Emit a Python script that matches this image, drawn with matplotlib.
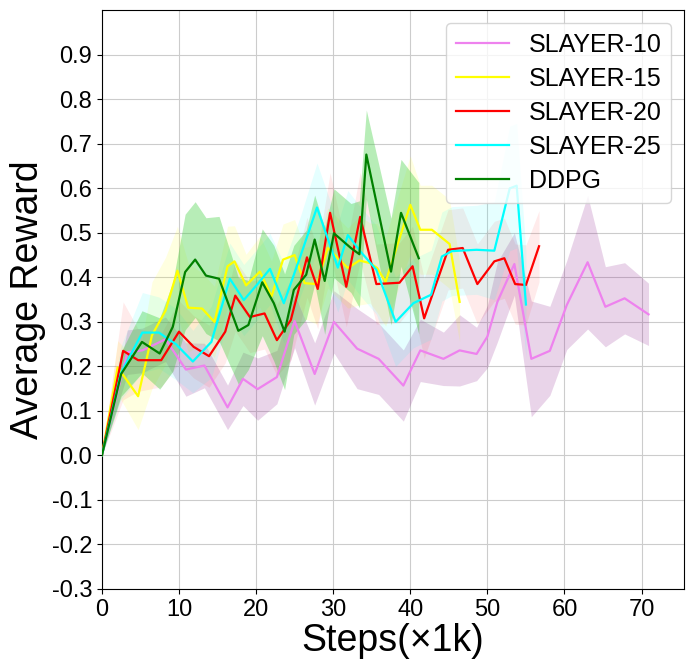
import numpy as np
import matplotlib
matplotlib.use('Agg')
import matplotlib.pyplot as plt

plt.rcParams['font.family'] = ['Liberation Sans', 'DejaVu Sans']

# SLAYER-10
x10 = [0, 3.3, 5.25, 8.25, 10.9, 13.3, 16.3, 18.3, 20.2, 22.7, 25.0, 27.6, 30.1, 33.1, 35.9,
       39.1, 41.3, 44.3, 46.4, 48.6, 50.0, 51.3, 53.5, 55.7, 58.1, 60.3, 63.0, 65.3, 67.8, 70.9]
y10 = [0, 0.232, 0.236, 0.261, 0.193, 0.202, 0.108, 0.172, 0.149, 0.176, 0.302, 0.183, 0.300, 0.240, 0.217,
       0.157, 0.236, 0.217, 0.236, 0.228, 0.267, 0.345, 0.430, 0.217, 0.235, 0.338, 0.434, 0.334, 0.353, 0.317]
s10 = [0, 0.05, 0.05, 0.05, 0.06, 0.05, 0.05, 0.06, 0.07, 0.06, 0.06, 0.07, 0.07, 0.09, 0.08,
       0.08, 0.07, 0.06, 0.08, 0.06, 0.07, 0.09, 0.07, 0.13, 0.10, 0.10, 0.15, 0.09, 0.08, 0.07]

# SLAYER-15
x15 = [0, 2.05, 4.7, 6.5, 8.25, 9.8, 11.2, 13.0, 14.6, 16.3, 17.2, 18.7, 20.5, 22.0, 23.5,
       25.0, 26.3, 27.9, 29.3, 31.9, 33.4, 34.8, 35.7, 36.8, 40.0, 41.3, 42.8, 45.1, 46.4]
y15 = [0, 0.198, 0.133, 0.270, 0.325, 0.415, 0.332, 0.330, 0.300, 0.425, 0.436, 0.382, 0.413, 0.357, 0.440,
       0.450, 0.387, 0.385, 0.466, 0.421, 0.438, 0.432, 0.421, 0.390, 0.563, 0.507, 0.507, 0.475, 0.345]
s15 = [0, 0.06, 0.075, 0.12, 0.12, 0.10, 0.10, 0.08, 0.08, 0.09, 0.08, 0.07, 0.08, 0.08, 0.08,
       0.08, 0.08, 0.09, 0.09, 0.09, 0.10, 0.09, 0.10, 0.10, 0.11, 0.10, 0.10, 0.10, 0.09]

# SLAYER-20
x20 = [0, 2.76, 4.7, 7.7, 10.0, 11.9, 13.9, 16.0, 17.3, 19.2, 21.1, 22.7, 24.5, 26.6, 28.0,
       29.6, 31.7, 33.5, 35.6, 38.6, 40.3, 41.8, 44.9, 46.8, 48.7, 50.9, 52.2, 53.6, 55.0, 56.7]
y20 = [0, 0.235, 0.214, 0.214, 0.278, 0.244, 0.223, 0.278, 0.359, 0.311, 0.319, 0.259, 0.304, 0.445, 0.374,
       0.545, 0.379, 0.536, 0.385, 0.388, 0.425, 0.308, 0.462, 0.466, 0.385, 0.436, 0.443, 0.385, 0.383, 0.470]
s20 = [0, 0.11, 0.07, 0.06, 0.07, 0.07, 0.07, 0.07, 0.08, 0.08, 0.08, 0.08, 0.09, 0.09, 0.09,
       0.09, 0.09, 0.10, 0.09, 0.09, 0.09, 0.09, 0.09, 0.09, 0.09, 0.09, 0.09, 0.09, 0.09, 0.08]

# SLAYER-25
x25 = [0, 2.47, 5.25, 7.4, 9.6, 11.8, 14.2, 16.6, 18.4, 20.2, 21.8, 23.6, 25.8, 27.9,
       30.6, 31.9, 33.6, 35.6, 38.1, 40.4, 42.7, 44.1, 45.4, 48.6, 50.9, 52.9, 53.8, 55.0]
y25 = [0, 0.185, 0.276, 0.276, 0.250, 0.211, 0.255, 0.397, 0.349, 0.385, 0.419, 0.342, 0.450, 0.557,
       0.422, 0.495, 0.457, 0.417, 0.300, 0.342, 0.361, 0.447, 0.459, 0.462, 0.460, 0.600, 0.606, 0.339]
s25 = [0, 0.06, 0.09, 0.08, 0.08, 0.07, 0.08, 0.08, 0.08, 0.08, 0.08, 0.09, 0.09, 0.10,
       0.10, 0.10, 0.10, 0.10, 0.10, 0.10, 0.10, 0.10, 0.10, 0.10, 0.11, 0.14, 0.14, 0.12]

# DDPG
xd = [0, 2.5, 5.2, 7.5, 9.2, 10.8, 12.1, 13.5, 15.2, 17.7, 19.0, 20.8, 22.3, 23.7, 24.9,
      26.5, 27.6, 28.9, 30.1, 32.3, 33.4, 34.3, 37.5, 38.8, 41.1]
yd = [0, 0.183, 0.255, 0.229, 0.289, 0.412, 0.440, 0.404, 0.397, 0.280, 0.293, 0.389, 0.342, 0.278, 0.372,
      0.406, 0.485, 0.392, 0.499, 0.466, 0.452, 0.676, 0.413, 0.545, 0.443]
sd = [0, 0.05, 0.07, 0.08, 0.10, 0.13, 0.13, 0.13, 0.14, 0.12, 0.10, 0.12, 0.13, 0.13, 0.10,
      0.10, 0.10, 0.12, 0.10, 0.10, 0.12, 0.10, 0.12, 0.12, 0.17]

series = [
    ("SLAYER-10", x10, y10, s10, 'violet', 'purple', 0.17),
    ("SLAYER-15", x15, y15, s15, 'yellow', 'yellow', 0.12),
    ("SLAYER-20", x20, y20, s20, 'red', 'red', 0.08),
    ("SLAYER-25", x25, y25, s25, 'cyan', 'cyan', 0.10),
    ("DDPG", xd, yd, sd, 'green', 'limegreen', 0.35),
]

fig = plt.figure(figsize=(6.93, 6.69), dpi=100)
ax = fig.add_axes([0.147, 0.1196, 0.84, 0.865])

for name, x, y, s, c, fc, a in series:
    x = np.array(x); y = np.array(y); s = np.array(s)
    ax.fill_between(x, y - s, y + s, color=fc, alpha=a, linewidth=0, zorder=1)
for name, x, y, s, c, fc, a in series:
    ax.plot(x, y, color=c, lw=1.6, label=name, zorder=3)

ax.set_xlim(0, 75.5)
ax.set_ylim(-0.3, 1.0)
ax.set_xticks(np.arange(0, 71, 10))
yt = np.round(np.arange(-0.3, 0.91, 0.1), 1)
ax.set_yticks(yt)
ax.set_yticklabels(['%.1f' % v for v in yt])
ax.tick_params(labelsize=17)
ax.grid(True, color='#cccccc', lw=0.8)
ax.set_axisbelow(True)
ax.set_xlabel("Steps(×1k)", fontsize=27, labelpad=2)
ax.set_ylabel("Average Reward", fontsize=27, labelpad=4)
ax.legend(loc='upper right', fontsize=18, handlelength=2.1, labelspacing=0.4)

fig.savefig("out.png", dpi=100)
